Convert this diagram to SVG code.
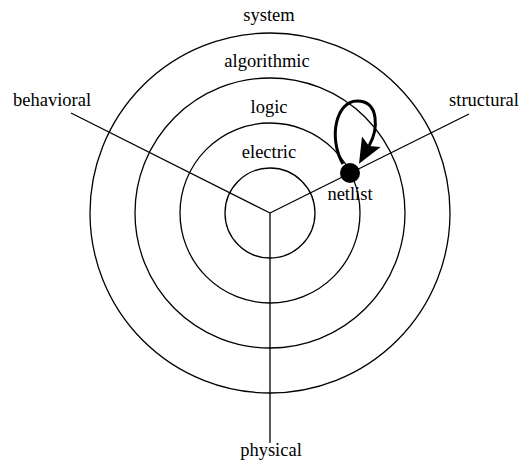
<svg xmlns="http://www.w3.org/2000/svg" width="519" height="463" viewBox="0 0 519 463">
<style>
.ring{fill:none;stroke:#000;stroke-width:1.3}
.axis{stroke:#000;stroke-width:1.3}
.lbl{font-family:"Liberation Serif","Times New Roman",serif;font-size:18.5px;fill:#000;text-anchor:middle}
.loop{fill:none;stroke:#000;stroke-width:3}
</style>
<defs>
<marker id="ah" markerUnits="userSpaceOnUse" orient="auto" markerWidth="30" markerHeight="30" viewBox="-6 -12 28 24" refX="0" refY="0">
<path d="M19,0 L-4.5,10 L0,0 L-4.5,-10 Z" fill="#000"/>
</marker>
</defs>
<rect width="519" height="463" fill="#fff"/>
<g id="rings">
<circle class="ring" cx="270" cy="213" r="45"/>
<circle class="ring" cx="270" cy="213" r="90"/>
<circle class="ring" cx="270" cy="213" r="135"/>
<circle class="ring" cx="270" cy="213" r="180"/>
</g>
<g id="axes">
<line class="axis" x1="270" y1="213" x2="71" y2="113"/>
<line class="axis" x1="270" y1="213" x2="469" y2="114"/>
<line class="axis" x1="270" y1="213" x2="270" y2="443"/>
</g>
<g id="connectors">
<path class="loop" d="M343,164 C328,138 336,101 357,101 C380,101 378,130 369,146" marker-end="url(#ah)"/>
</g>
<g id="netlist">
<circle cx="350" cy="173" r="10" fill="#000"/>
<text class="lbl" x="350" y="200">netlist</text>
</g>
<g id="labels">
<text class="lbl" x="269" y="21">system</text>
<text class="lbl" x="267" y="67">algorithmic</text>
<text class="lbl" x="269" y="113">logic</text>
<text class="lbl" x="269" y="158">electric</text>
<text class="lbl" x="52" y="106">behavioral</text>
<text class="lbl" x="484" y="106">structural</text>
<text class="lbl" x="271" y="456">physical</text>
</g>
</svg>
